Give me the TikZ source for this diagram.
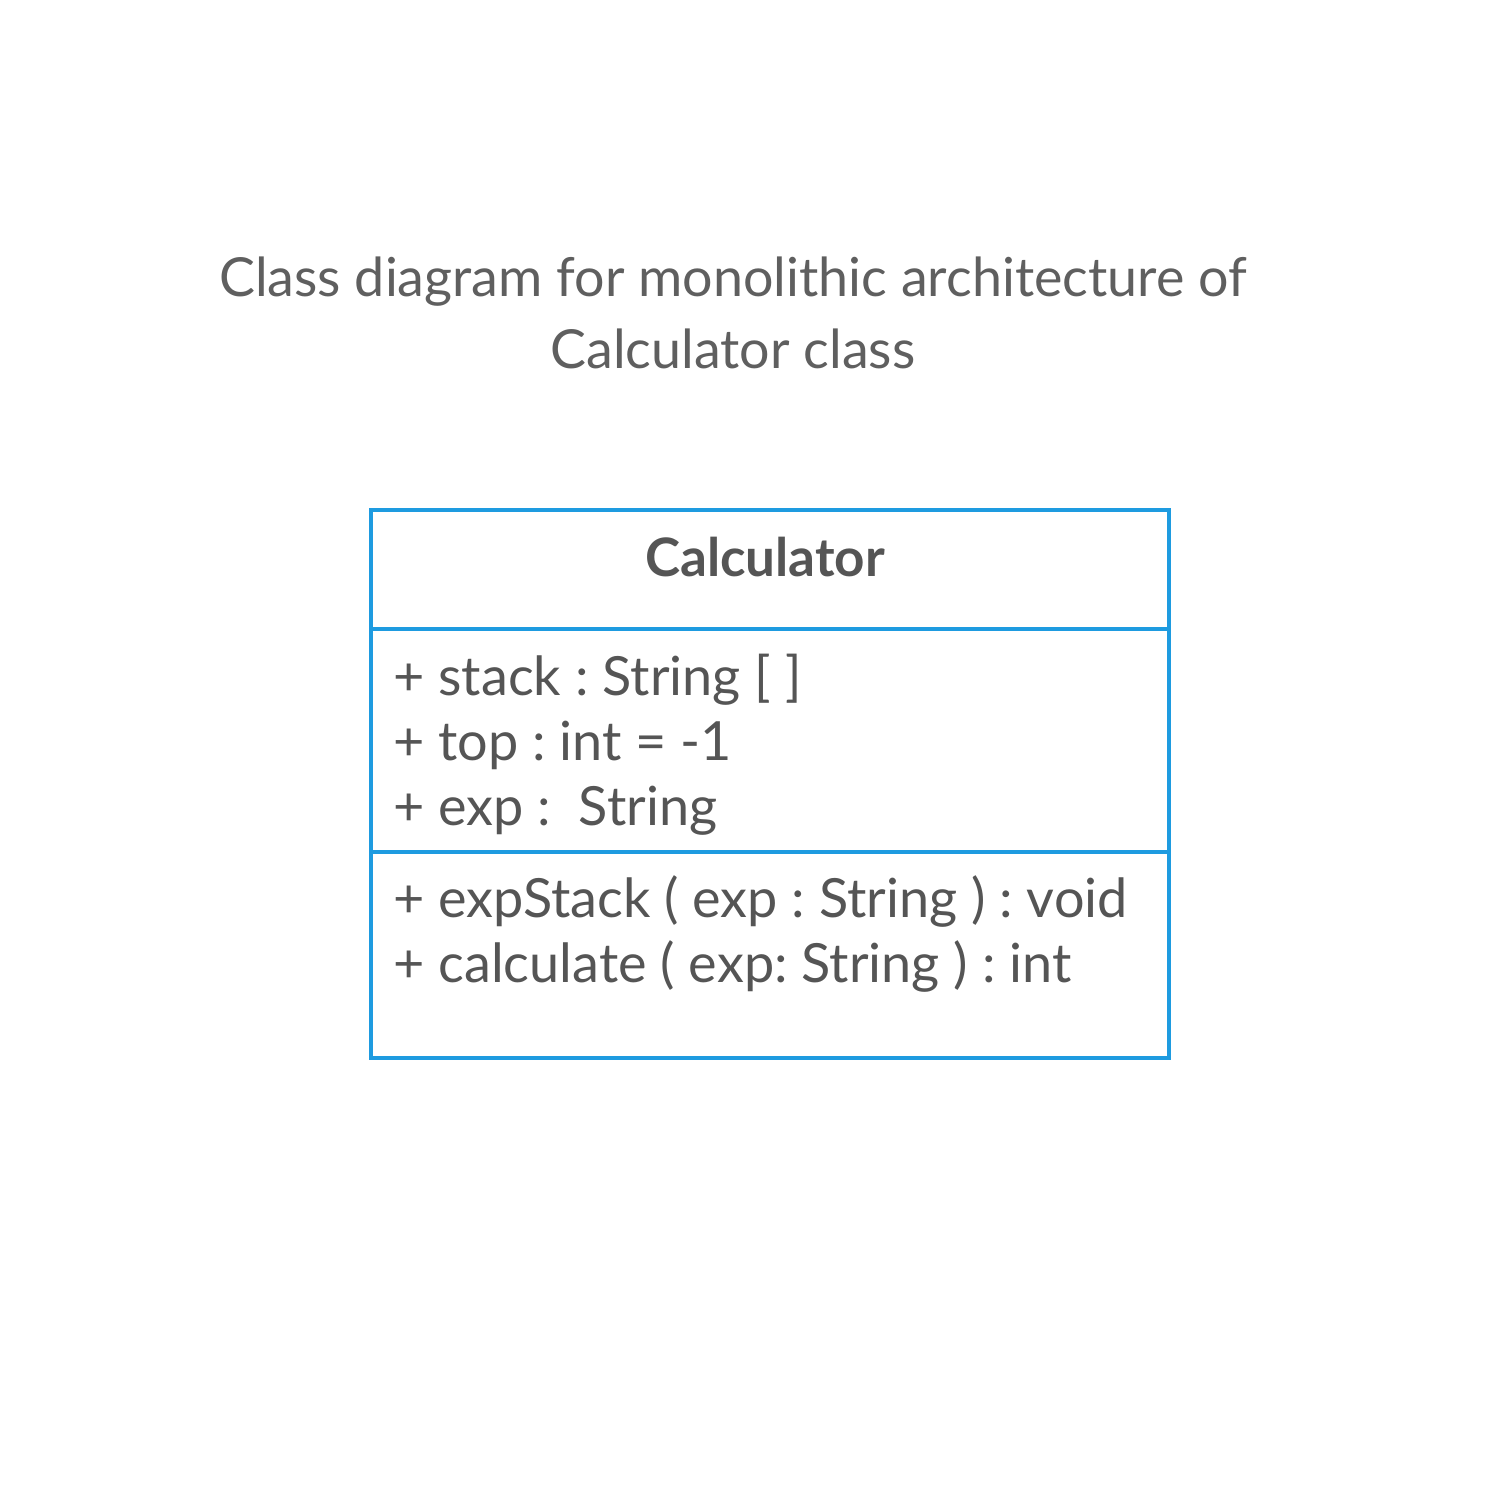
\documentclass[tikz,border=0pt]{standalone}
\usepackage{fontspec}
\setmainfont{Lato}
\usepackage{tikz}
\usetikzlibrary{positioning}
\definecolor{umlblue}{HTML}{1E9BE0}
\definecolor{txtcol}{HTML}{555555}
\definecolor{ttlcol}{HTML}{5F5F5F}
\frenchspacing

\begin{document}
\begin{tikzpicture}[x=0.5pt,y=-0.5pt,
  compart/.style={draw=umlblue,line width=2pt,minimum width=399pt,inner sep=0pt,outer sep=0pt},
  members/.style={anchor=north west,align=left,text=txtcol,inner sep=0pt,font=\fontsize{27}{32.5}\selectfont}]
  \useasboundingbox (0,0) rectangle (1510,1510);
  \node[align=center,text=ttlcol,font=\fontsize{26.9}{36}\selectfont] (title) at (733,313)
    {Class diagram for monolithic architecture of\\Calculator class};
  % class box
  \node[compart,minimum height=59.5pt,anchor=north] (head) at (770,510) {};
  \node[compart,minimum height=111.5pt,below=0pt of head] (attrs) {};
  \node[compart,minimum height=103pt,below=0pt of attrs] (ops) {};
  \node[text=txtcol,font=\bfseries\fontsize{26.5}{30}\selectfont] (name) at (765,557) {Calculator};
  \node[members] (attrtxt) at ([xshift=11pt,yshift=-12.5pt]attrs.north west)
    {+ stack : String [ ]\\+ top : int = -1\\+ exp :~ String};
  \node[members] (optxt) at ([xshift=11pt,yshift=-11.5pt]ops.north west)
    {+ expStack ( exp : String ) : void\\+ calculate ( exp: String ) : int};
\end{tikzpicture}
\end{document}
